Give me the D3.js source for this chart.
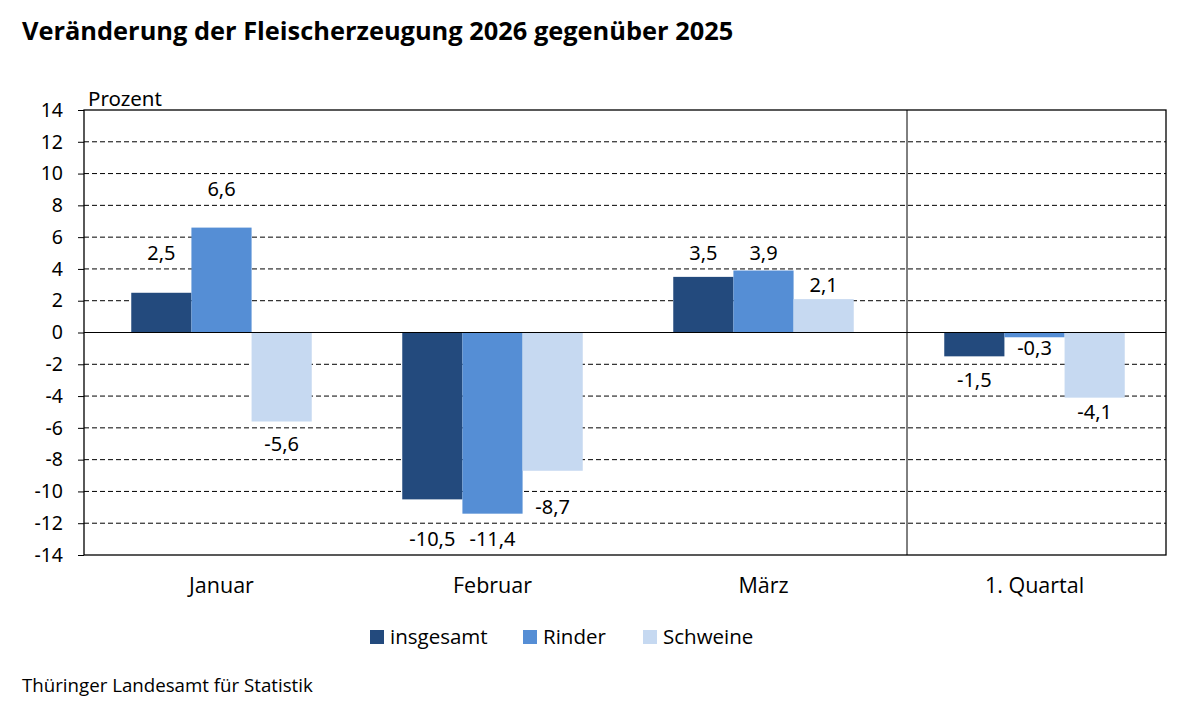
<!DOCTYPE html>
<html>
<head>
<meta charset="utf-8">
<script src="https://cdn.jsdelivr.net/npm/d3@7"></script>
<style>
  body { margin: 0; background: #fff; }
  svg { display: block; font-family: "Open Sans", "Noto Sans", sans-serif; }
</style>
</head>
<body>
<svg id="chart" width="1200" height="708"></svg>
<script>
// data
var categories = ['Januar', 'Februar', 'März', '1. Quartal'];
var seriesNames = ['insgesamt', 'Rinder', 'Schweine'];
var insgesamt = [2.5, -10.5, 3.5, -1.5];
var rinder = [6.6, -11.4, 3.9, -0.3];
var schweine = [-5.6, -8.7, 2.1, -4.1];
var yTicks = [-14, -12, -10, -8, -6, -4, -2, 0, 2, 4, 6, 8, 10, 12, 14];
var colors = ['#234a7d', '#558ed5', '#c6d9f1'];

var svg = d3.select('#chart');
var mLeft = 84, mRight = 1166, mTop = 110, mBottom = 555;

var rows = [];
categories.forEach(function(c, i){
  rows.push({cat: c, s: 'insgesamt', v: insgesamt[i]});
  rows.push({cat: c, s: 'Rinder', v: rinder[i]});
  rows.push({cat: c, s: 'Schweine', v: schweine[i]});
});

var x = d3.scaleBand().domain(categories).range([mLeft + 2, mRight + 4]).paddingInner(0.334).paddingOuter(0.167);
var xs = d3.scaleBand().domain(seriesNames).range([0, x.bandwidth()]);
var y = d3.scaleLinear().domain([-14, 14]).range([mBottom, mTop]);
var color = d3.scaleOrdinal().domain(seriesNames).range(colors);

// label sits in the middle of the grid cell just beyond the bar end
function labelPos(v){
  if (v >= 0) return 2 * Math.ceil((v + 0.7 - 1) / 2) + 1;
  return 2 * Math.floor((v - 0.7 + 1) / 2) - 1;
}

// title
svg.append('text')
  .attr('x', 22).attr('y', 40)
  .style('font-size', '25.4px').style('font-weight', 'bold')
  .text('Veränderung der Fleischerzeugung 2026 gegenüber 2025');

// gridlines
svg.append('g').selectAll('line').data(yTicks.filter(function(d){ return d != 0 && d != 14 && d != -14; }))
  .enter().append('line')
  .attr('x1', mLeft).attr('x2', mRight)
  .attr('y1', function(d){ return y(d); }).attr('y2', function(d){ return y(d); })
  .attr('stroke', '#000').attr('stroke-width', 1)
  .style('stroke-dasharray', '5, 3');

// y axis
var axisY = d3.axisLeft().scale(y).tickValues(yTicks).tickSize(6).tickPadding(15)
  .tickFormat(function(d){ return d < 0 ? '-' + Math.abs(d) : d; });
var gy = svg.append('g').attr('transform', 'translate(' + mLeft + ',0)').call(axisY);
gy.select('.domain').remove();
gy.selectAll('.tick line').attr('stroke', '#000');
gy.selectAll('.tick text').style('font-size', '19.5px').attr('fill', '#000').style('font-family', '"Noto Sans", sans-serif');

svg.append('text').attr('x', 88).attr('y', 106)
  .style('font-size', '20.5px').style('font-family', '"Noto Sans", sans-serif').text('Prozent');

// bars
svg.append('g').selectAll('rect').data(rows).enter().append('rect')
  .attr('x', function(d){ return x(d.cat) + xs(d.s); })
  .attr('width', xs.bandwidth())
  .attr('y', function(d){ return y(Math.max(0, d.v)); })
  .attr('height', function(d){ return Math.abs(y(d.v) - y(0)); })
  .attr('fill', function(d){ return color(d.s); });

// value labels
svg.append('g').selectAll('text').data(rows).enter().append('text')
  .attr('x', function(d){ return x(d.cat) + xs(d.s) + xs.bandwidth() / 2; })
  .attr('y', function(d){ return y(labelPos(d.v)) + 7; })
  .attr('text-anchor', 'middle')
  .style('font-size', '20px').style('font-family', '"Noto Sans", sans-serif')
  .text(function(d){ return String(d.v).replace('.', ','); });

// frame + zero line
var frame = svg.append('g').attr('stroke', '#000').attr('fill', 'none');
frame.append('rect').attr('x', mLeft).attr('y', mTop).attr('width', mRight - mLeft).attr('height', mBottom - mTop).attr('stroke-width', 1.3);
frame.append('line').attr('x1', mLeft).attr('x2', mRight).attr('y1', y(0)).attr('y2', y(0));
var divX = x('1. Quartal') - x.step() * x.paddingInner() / 2 + 8;
frame.append('line').attr('x1', divX).attr('x2', divX).attr('y1', mTop).attr('y2', mBottom);

// category labels
svg.append('g').selectAll('text').data(categories).enter().append('text')
  .attr('x', function(d){ return x(d) + x.bandwidth() / 2; })
  .attr('y', 593)
  .attr('text-anchor', 'middle').style('font-size', '21.5px')
  .text(function(d){ return d; });

// legend
var legX = [370, 523, 643];
var leg = svg.append('g').selectAll('g').data(seriesNames).enter().append('g')
  .attr('transform', function(d, i){ return 'translate(' + legX[i] + ',630)'; });
leg.append('rect').attr('width', 14).attr('height', 14).attr('fill', function(d){ return color(d); });
leg.append('text').attr('x', 20).attr('y', 14).style('font-size', '20.5px').text(function(d){ return d; });

// source
svg.append('text').attr('x', 22).attr('y', 692).style('font-size', '18.7px').text('Thüringer Landesamt für Statistik');
</script>
</body>
</html>
